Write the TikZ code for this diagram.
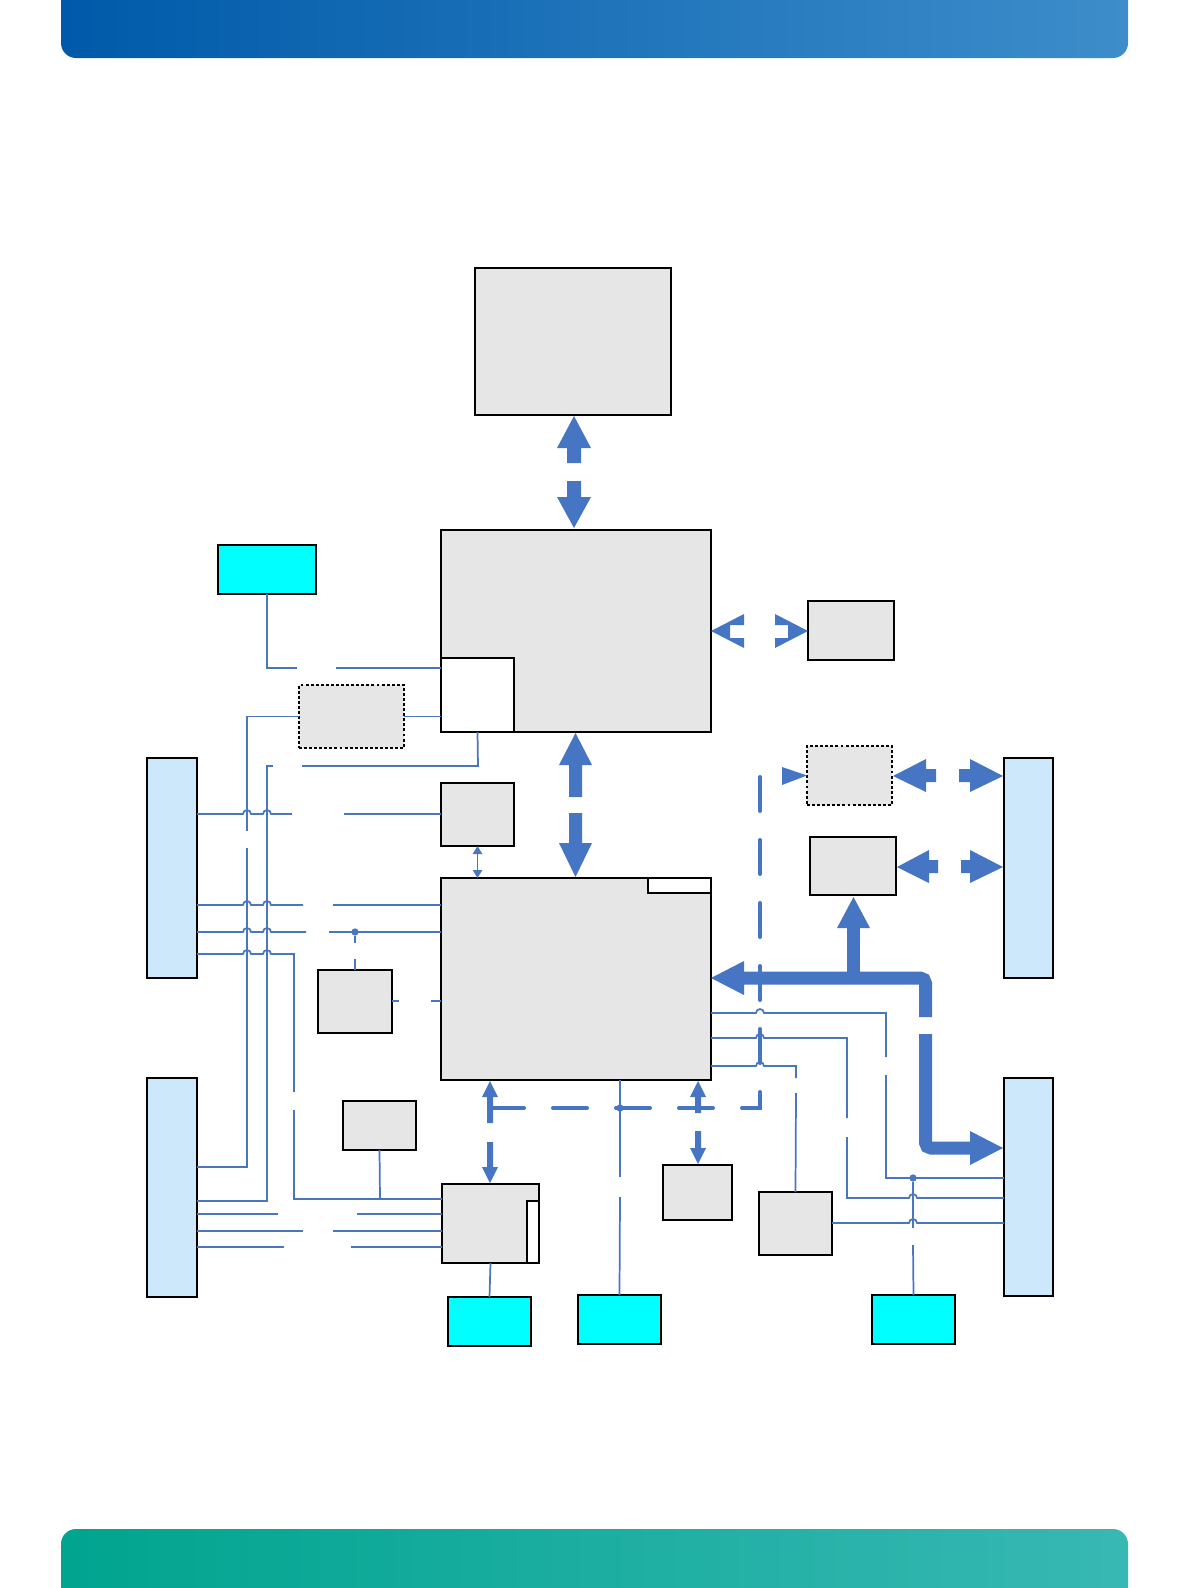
\documentclass[tikz,border=0pt]{standalone}
\usetikzlibrary{arrows.meta}
\definecolor{fatc}{HTML}{4675C4}
\definecolor{wirec}{HTML}{4A76BE}
\definecolor{boxgray}{HTML}{E6E6E6}
\definecolor{conblue}{HTML}{CCE8FA}
\definecolor{cyanc}{HTML}{00FFFF}
\definecolor{hdrA}{HTML}{005AA9}
\definecolor{hdrB}{HTML}{0A78BE}
\definecolor{hdrC}{HTML}{3D8DCA}
\definecolor{ftrA}{HTML}{00A48F}
\definecolor{ftrB}{HTML}{38B8B3}
\newcommand\bx[6]{\node[#2, minimum width={(#5-#3)*0.75pt}, minimum height={(#6-#4)*0.75pt}] (#1) at ({(#3+#5)/2},{(#4+#6)/2}) {};}
\newcommand\hp[2]{-- ({#1-4},#2) arc[start angle=180,end angle=0,radius=3pt]}
\begin{document}
\begin{tikzpicture}[x=0.75pt,y=-0.75pt,
 gbox/.style={draw=black,line width=0.8pt,fill=boxgray,inner sep=0pt,outer sep=0pt},
 dbox/.style={gbox,dash pattern=on 2.2pt off 1.6pt},
 wbox/.style={gbox,fill=white},
 cbox/.style={gbox,fill=cyanc},
 conn/.style={gbox,fill=conblue},
 wire/.style={draw=wirec,line width=1.3pt},
 fat/.style={fill=fatc},
 dashbus/.style={draw=fatc,line width=3pt,line cap=round,dash pattern=on 25.5pt off 21.75pt},
 dot/.style={circle,fill=wirec,inner sep=0pt,minimum size=5.5pt},
 small tip/.style={{Triangle[length=6pt,width=7pt]}-{Triangle[length=6pt,width=7pt]}}]
\useasboundingbox (0,0) rectangle (1191,1588);
% header and footer bars
\shade[left color=hdrA,middle color=hdrB,right color=hdrC]
  (61,0) -- (61,43) arc[start angle=180,end angle=270,radius=11.25pt]
  -- (1113,58) arc[start angle=270,end angle=360,radius=11.25pt] -- (1128,0) -- cycle;
\shade[left color=ftrA,right color=ftrB]
  (61,1588) -- (61,1544) arc[start angle=180,end angle=90,radius=11.25pt]
  -- (1113,1529) arc[start angle=90,end angle=0,radius=11.25pt] -- (1128,1588) -- cycle;

% boxes
\bx{top}{gbox}{475}{268}{671}{415}
\bx{cpu}{gbox}{441}{530}{711}{732}
\bx{cpusub}{wbox}{441}{658}{514}{732}
\bx{cyanTL}{cbox}{218}{545}{316}{594}
\bx{dashL}{dbox}{299}{685}{404}{748}
\bx{rbox1}{gbox}{808}{601}{894}{660}
\bx{dashR}{dbox}{807}{746}{892}{805}
\bx{rbox2}{gbox}{810}{837}{896}{895}
\bx{sbox}{gbox}{441}{783}{514}{846}
\bx{chip}{gbox}{441}{878}{711}{1080}
\bx{chipsub}{wbox}{648}{878}{711}{893}
\bx{smallL}{gbox}{318}{970}{392}{1033}
\bx{smallL2}{gbox}{343}{1101}{416}{1150}
\bx{sio}{gbox}{442}{1184}{539}{1263}
\bx{siosub}{wbox}{527}{1201}{539}{1263}
\bx{boxA}{gbox}{663}{1165}{732}{1220}
\bx{boxB}{gbox}{759}{1192}{832}{1255}
\bx{cyanBL}{cbox}{448}{1297}{531}{1346}
\bx{cyanBM}{cbox}{578}{1295}{661}{1344}
\bx{cyanBR}{cbox}{872}{1295}{955}{1344}
\bx{LT}{conn}{147}{758}{197}{978}
\bx{LB}{conn}{147}{1078}{197}{1297}
\bx{RT}{conn}{1004}{758}{1053}{978}
\bx{RB}{conn}{1004}{1078}{1053}{1296}

% fat double arrow top <-> cpu
\fill[fat] (574,416) -- (591,448) -- (581,448) -- (581,463) -- (567,463) -- (567,448) -- (557,448) -- cycle;
\fill[fat] (567,481) -- (581,481) -- (581,497) -- (591,497) -- (574,528) -- (557,497) -- (567,497) -- cycle;
% fat double arrow cpu <-> chipset
\fill[fat] (575.5,733) -- (592,765) -- (582,765) -- (582,797) -- (569,797) -- (569,765) -- (559,765) -- cycle;
\fill[fat] (569,813) -- (582,813) -- (582,843) -- (592,843) -- (575.5,877) -- (559,843) -- (569,843) -- cycle;
% notched arrow heads cpu <-> rbox1
\fill[fat] (711,631) -- (744,614) -- (744,625) -- (730,625) -- (730,638) -- (744,638) -- (744,648) -- cycle;
\fill[fat] (808,631) -- (775,614) -- (775,625) -- (788,625) -- (788,638) -- (775,638) -- (775,648) -- cycle;
% dashR <-> RT
\fill[fat] (893,776) -- (926,759) -- (926,769) -- (936,769) -- (936,782) -- (926,782) -- (926,792) -- cycle;
\fill[fat] (959,769) -- (970,769) -- (970,759) -- (1003,776) -- (970,792) -- (970,782) -- (959,782) -- cycle;
% rbox2 <-> RT
\fill[fat] (897,867) -- (929,850) -- (929,860) -- (938,860) -- (938,873) -- (929,873) -- (929,883) -- cycle;
\fill[fat] (961,860) -- (970,860) -- (970,850) -- (1003,867) -- (970,883) -- (970,873) -- (961,873) -- cycle;
% thick L-shaped bus
\draw[fatc,line width=9.75pt,rounded corners=4pt] (743,978) -- (925.5,978) -- (925.5,1017);
\draw[fatc,line width=9.75pt,rounded corners=4pt] (925.5,1034) -- (925.5,1148) -- (971,1148);
\fill[fat] (711,978) -- (744,961) -- (744,995) -- cycle;
\fill[fat] (970,1131) -- (1003,1148) -- (970,1165) -- cycle;
\fill[fat] (847,978) rectangle (860,928);
\fill[fat] (837,928) -- (853.5,897) -- (870,928) -- cycle;
% small dashed-bus arrows
\fill[fat] (490,1081) -- (498,1097) -- (493,1097) -- (493,1123) -- (487,1123) -- (487,1097) -- (482,1097) -- cycle;
\fill[fat] (487,1142) -- (493,1142) -- (493,1167) -- (498,1167) -- (490,1183) -- (482,1167) -- (487,1167) -- cycle;
\fill[fat] (698,1081) -- (706,1097) -- (701,1097) -- (701,1113) -- (695,1113) -- (695,1097) -- (690,1097) -- cycle;
\fill[fat] (695,1131) -- (701,1131) -- (701,1148) -- (706,1148) -- (698,1164) -- (690,1148) -- (695,1148) -- cycle;
% dashed bus
\draw[dashbus] (490,1108) -- (760,1108) -- (760,775) -- (770,775);
\fill[fat] (782,767) -- (dashR.west) -- (782,785) -- cycle;
% small double arrow
\draw[wire,small tip] (sbox.south) -- (sbox.south |- chip.north);

% thin wires, left side
\draw[wire] (cyanTL.south) -- (267,668) -- (297,668);
\draw[wire] (336,668) -- (441,668);
\draw[wire] (dashL.east) -- (cpusub.west |- dashL.east);
\draw[wire] (dashL.west) -- (247,716.5) -- (247,831);
\draw[wire] (247,848) -- (247,1167) -- (197,1167);
\draw[wire] (cpusub.south) -- (478,766) -- (302,766);
\draw[wire] (273,766) -- (267,766) -- (267,1201) -- (197,1201);
\draw[wire] (197,814) \hp{247}{814} \hp{267}{814} -- (292,814);
\draw[wire] (344,814) -- (441,814);
\draw[wire] (197,905) \hp{247}{905} \hp{267}{905} -- (303,905);
\draw[wire] (333,905) -- (441,905);
\draw[wire] (197,932) \hp{247}{932} \hp{267}{932} -- (306,932);
\draw[wire] (329,932) -- (441,932);
\node[dot] (d1) at (355,932) {};
\draw[wire] (d1) -- (355,943);
\draw[wire] (355,959) -- (smallL.north);
\draw[wire] (197,954) \hp{247}{954} \hp{267}{954} -- (294,954) -- (294,1092);
\draw[wire] (294,1110) -- (294,1199) -- (442,1199);
\draw[wire] (smallL2.south) -- (380,1199);
\draw[wire] (392,1001) -- (399,1001);
\draw[wire] (431,1001) -- (441,1001);
\draw[wire] (197,1214) -- (278,1214);
\draw[wire] (357,1214) -- (442,1214);
\draw[wire] (197,1231) -- (303,1231);
\draw[wire] (333,1231) -- (442,1231);
\draw[wire] (197,1247) -- (284,1247);
\draw[wire] (351,1247) -- (442,1247);
\draw[wire] (sio.south) -- (cyanBL.north);

% thin wires, bottom / right
\draw[wire] (620,1080) -- (620,1177);
\draw[wire] (620,1197) -- (cyanBM.north);
\node[dot] (d2) at (620,1108) {};
\draw[wire] (711,1013) \hp{760}{1013} -- (886,1013) -- (886,1057);
\draw[wire] (886,1075) -- (886,1178) -- (1004,1178);
\node[dot] (d3) at (913,1178) {};
\draw[wire] (711,1038) \hp{760}{1038} -- (847,1038) -- (847,1118);
\draw[wire] (847,1137) -- (847,1198) \hp{913}{1198} -- (1004,1198);
\draw[wire] (711,1066) \hp{760}{1066} -- (796,1066) -- (796,1078);
\draw[wire] (796,1093) -- (boxB.north);
\draw[wire] (boxB.east |- 0,1223) \hp{913}{1223} -- (1004,1223);
\draw[wire] (d3) -- (913,1228);
\draw[wire] (913,1245) -- (cyanBR.north);
\end{tikzpicture}
\end{document}
